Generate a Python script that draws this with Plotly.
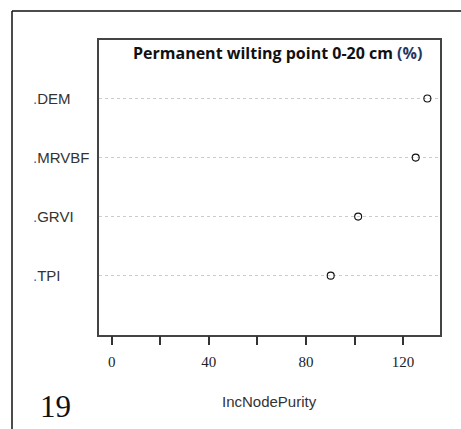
import plotly.graph_objects as go

# Variable importance (IncNodePurity) for permanent wilting point 0-20 cm
variables = ["TPI", "GRVI", "MRVBF", "DEM"]
inc_node_purity = [90.2, 101.5, 125.2, 130.0]
tick_values = [0, 20, 40, 60, 80, 100, 120]
tick_labels = ["0", "", "40", "", "80", "", "120"]

W, H = 461, 429
# plot box in pixels
box_l, box_r, box_t, box_b = 99, 440, 39.5, 334.7

positions = list(range(1, len(variables) + 1))

fig = go.Figure()
fig.add_trace(go.Scatter(
    x=inc_node_purity, y=positions, mode="markers",
    marker=dict(symbol="circle-open", size=7, color="#111",
                line=dict(width=1.1, color="#111")),
    hoverinfo="x+y", showlegend=False,
))

xmin, xmax = 0, max(inc_node_purity)
pad = 0.04 * (xmax - xmin)

fig.update_layout(
    width=W, height=H,
    margin=dict(l=0, r=0, t=0, b=0),
    paper_bgcolor="white", plot_bgcolor="white",
    xaxis=dict(
        domain=[box_l / W, box_r / W],
        range=[xmin - pad, xmax + pad],
        tickmode="array", tickvals=tick_values, ticktext=tick_labels,
        ticks="outside", ticklen=9, tickwidth=1.5, tickcolor="#333",
        ticklabelstandoff=4,
        showgrid=False, zeroline=False,
        showline=True, mirror=True, linecolor="#444", linewidth=1.5,
        tickfont=dict(family="Liberation Serif", size=15, color="#222"),
        fixedrange=True,
    ),
    yaxis=dict(
        domain=[1 - box_b / H, 1 - box_t / H],
        range=[0, len(variables) + 1],
        tickmode="array", tickvals=positions, ticktext=[""] * len(positions),
        ticks="", showgrid=True, gridcolor="#cccccc", griddash="dot",
        gridwidth=1, zeroline=False,
        showline=True, mirror=True, linecolor="#444", linewidth=1.5,
        fixedrange=True,
    ),
)

# variable names, left-aligned
for name, pos in zip(variables, positions):
    fig.add_annotation(
        x=31 / W, xref="paper", y=pos, yref="y",
        text="<span style='color:#2a6ebb'>.</span>" + name,
        showarrow=False, xanchor="left", yanchor="middle",
        font=dict(family="Liberation Sans", size=15, color="#333"),
    )

# title inside the box
fig.add_annotation(
    x=277.5 / W, xref="paper", y=1 - 53.5 / H, yref="paper",
    text="<b>Permanent wilting point 0-20 cm <span style='color:#1f3864'>(%)</span></b>",
    showarrow=False, xanchor="center", yanchor="middle",
    font=dict(family="Open Sans", size=16, color="#111"),
)

# axis title
fig.add_annotation(
    x=(box_l + box_r) / 2 / W, xref="paper", y=1 - 401.5 / H, yref="paper",
    text="IncNodePurity", showarrow=False, xanchor="center", yanchor="middle",
    font=dict(family="Liberation Sans", size=15, color="#333"),
)

# panel number
fig.add_annotation(
    x=55 / W, xref="paper", y=1 - 406 / H, yref="paper",
    text="19", showarrow=False, xanchor="center", yanchor="middle",
    font=dict(family="Liberation Serif", size=31, color="#111"),
)

# outer panel frame (left and top edges)
fig.add_shape(type="line", xref="paper", yref="paper",
              x0=12 / W, x1=1.0, y0=1 - 11 / H, y1=1 - 11 / H,
              line=dict(color="#111", width=1.5))
fig.add_shape(type="line", xref="paper", yref="paper",
              x0=12 / W, x1=12 / W, y0=0, y1=1 - 11 / H,
              line=dict(color="#111", width=1.5))

fig.write_html("out.html")
